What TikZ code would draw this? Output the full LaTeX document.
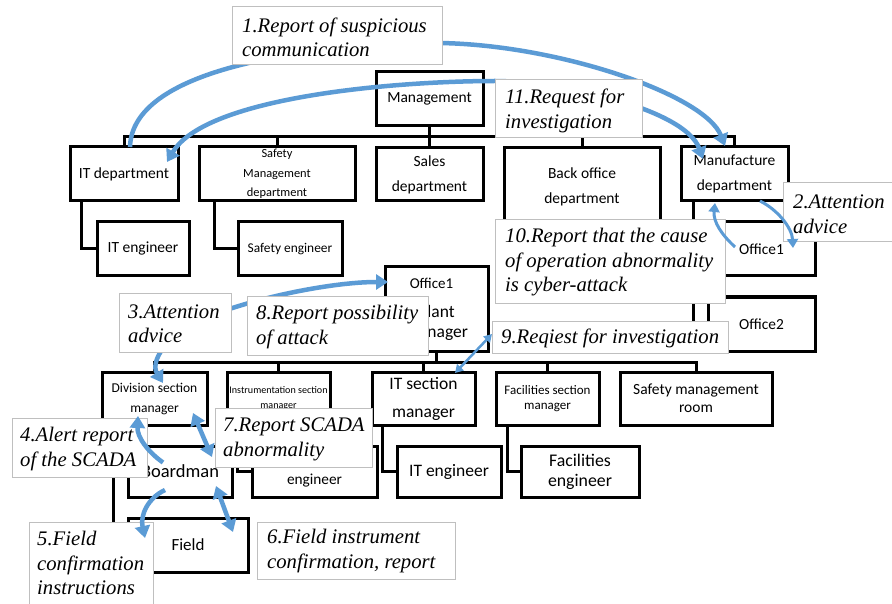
\documentclass[tikz,border=0pt]{standalone}
\usepackage{fontspec}
\setmainfont{Carlito}
\newfontfamily\tagfont{Liberation Serif}
\usetikzlibrary{arrows.meta,calc}
\definecolor{flowblue}{HTML}{5B9BD5}
\definecolor{tagedge}{HTML}{BFBFBF}
\newcommand\fsz[2]{\fontsize{#1}{#2}\selectfont}

\begin{document}
\begin{tikzpicture}[x=1pt,y=-1pt,
  unit/.style={draw=black, line width=3pt, inner sep=0pt, outer sep=0pt, align=center},
  link/.style={draw=black, line width=3pt},
  tag/.style={draw=tagedge, line width=1pt, fill=white, inner sep=0pt, outer sep=0pt},
  tagtext/.style={anchor=west, align=left, inner sep=0pt, font=\tagfont\itshape\fsz{20.7}{24.5}},
  flow/.style={draw=flowblue, line width=4.5pt, >={Triangle[length=12pt,width=15pt]}},
  flowthin/.style={draw=flowblue, line width=3pt, >={Triangle[length=9pt,width=11pt]}},
  flowfine/.style={draw=flowblue, line width=2.5pt, >={Triangle[length=8pt,width=9pt]}},
]
\useasboundingbox (0,0) rectangle (892,604);
\fill[white] (0,0) rectangle (892,604);

% ---- head office ----
\node[unit, minimum width=107pt, minimum height=54pt, font=\fsz{15.5}{18}] (mgmt) at (429.5,99) {Management};
\node[unit, minimum width=108pt, minimum height=54pt, font=\fsz{15.5}{18}] (itdep) at (124,174) {IT department};
\node[unit, minimum width=156pt, minimum height=54pt, font=\fsz{12.4}{19.5}] (safdep) at (277,174) {Safety\\Management\\department};
\node[unit, minimum width=107pt, minimum height=53pt, font=\fsz{15.5}{25}] (sales) at (429.5,174.5) {Sales\\department};
\node[unit, minimum width=156pt, minimum height=77pt, font=\fsz{15.5}{25}] (backoff) at (582,186.5) {Back office\\department};
\node[unit, minimum width=107pt, minimum height=54pt, font=\fsz{15.5}{25}] (manu) at (734.5,174) {Manufacture\\department};
\node[unit, minimum width=92pt, minimum height=54pt, font=\fsz{15.5}{18}] (iteng1) at (143,249) {IT engineer};
\node[unit, minimum width=104pt, minimum height=54pt, font=\fsz{13.4}{16}] (safeng) at (290,249) {Safety engineer};
\node[unit, minimum width=107pt, minimum height=54pt, font=\fsz{15.4}{18}] (offr1) at (761.5,249) {Office1};
\node[unit, minimum width=107pt, minimum height=54pt, font=\fsz{15.4}{18}] (offr2) at (761.5,324) {Office2};

% ---- plant ----
\node[unit, minimum width=103pt, minimum height=84pt, font=\fsz{17.5}{20}] (plant) at (436.5,309) {\hspace*{-10pt}{\fsz{15}{18}Office1}\\[9pt]Plant\\manager};
\node[unit, minimum width=105pt, minimum height=53pt, font=\fsz{13.5}{20}] (divsec) at (154.5,398.5) {Division section\\manager};
\node[unit, minimum width=103pt, minimum height=53pt, font=\fsz{10.1}{15}] (instsec) at (278.5,398.5) {Instrumentation section\\manager};
\node[unit, minimum width=103pt, minimum height=53pt, font=\fsz{17.5}{28}] (itsec) at (423.5,398.5) {IT section\\manager};
\node[unit, minimum width=103pt, minimum height=53pt, font=\fsz{13}{15.5}] (facsec) at (547.5,398.5) {Facilities section\\manager};
\node[unit, minimum width=152pt, minimum height=53pt, font=\fsz{15.5}{18}] (safroom) at (696,398.5) {Safety management\\room};
\node[unit, minimum width=104pt, minimum height=51pt, font=\fsz{18.5}{20}] (board) at (180,471.5) {Boardman};
\node[unit, minimum width=125pt, minimum height=51pt, font=\fsz{15.3}{19}] (insteng) at (314.5,471.5) {Instrumentation\\engineer};
\node[unit, minimum width=104pt, minimum height=51pt, font=\fsz{17.5}{20}] (iteng2) at (449,471.5) {IT engineer};
\node[unit, minimum width=118pt, minimum height=51pt, font=\fsz{17.8}{20}] (faceng) at (580,471.5) {Facilities\\engineer};
\node[unit, minimum width=120pt, minimum height=54pt, font=\fsz{17}{20}] (field) at (188,545) {Field};

% ---- organisation lines ----
\coordinate (bus1) at (430,137);
\draw[link] (itdep.north) |- (bus1) -| (manu.north);
\draw[link] (mgmt.south) -- (sales.north);
\draw[link] (safdep.north) -- (safdep.north |- bus1);
\draw[link] (backoff.north) -- (backoff.north |- bus1);
\draw[link] ($(itdep.south)+(-43,0)$) |- (iteng1.west);
\draw[link] ($(safdep.south)+(-63,0)$) |- (safeng.west);
\draw[link] ($(manu.south)+(-41.5,0)$) |- (offr2.west);
\draw[link] (offr1.west) -- ++(-15,0);

\coordinate (bus2) at (436.5,362);
\draw[link] (divsec.north) |- (bus2) -| (safroom.north);
\draw[link] (plant.south) -- (bus2);
\draw[link] (instsec.north) -- (instsec.north |- bus2);
\draw[link] (itsec.north) -- (itsec.north |- bus2);
\draw[link] (facsec.north) -- (facsec.north |- bus2);
\draw[link] ($(divsec.south)+(-41.5,0)$) |- (field.west);
\draw[link] (board.west) -- ++(-15,0);
\draw[link] ($(instsec.south)+(-41.5,0)$) |- (insteng.west);
\draw[link] ($(itsec.south)+(-41.5,0)$) |- (iteng2.west);
\draw[link] ($(facsec.south)+(-40.5,0)$) |- (faceng.west);

% ---- information flows (behind the captions) ----
\draw[flow, ->] ($(itdep.north)+(6,0)$) .. controls (132,70) and (300,45) .. (440,43)
  .. controls (560,45) and (705,95) .. ($(manu.north)+(-9.5,-1)$);
\draw[flow, <->] ($(itdep.north east)+(-11,15)$) .. controls (206,96) and (400,81) .. (495,81)
  .. controls (560,81) and (685,109) .. ($(manu.north west)+(22,12)$);
\draw[flow, <->] ($(divsec.north)+(8.5,11)$) .. controls (150,362) and (165,335) .. (205,318)
  .. controls (250,299) and (330,282) .. ($(plant.west)+(3,-27)$);
\draw[flow, <->] ($(divsec.south east)+(-14,-12)$) -- ($(board.north east)+(-20,11)$);
\draw[flow, <->] ($(board.south east)+(-16,-11)$) -- ($(field.north east)+(-15,14)$);
\draw[flowfine, <->] ($(itsec.north)+(31.5,1)$) -- ($(plant.south east)+(4,-17)$);

% ---- captions ----
\node[tag, minimum width=210pt, minimum height=58pt] (t1) at (337,36) {};
\node[tagtext] (t1x) at ($(t1.west)+(10,1.5)$) {1.Report of suspicious\\communication};
\node[tag, minimum width=147pt, minimum height=58pt] (t11) at (568.5,109) {};
\node[tagtext] (t11x) at ($(t11.west)+(10,2)$) {11.Request for\\investigation};
\node[tag, minimum width=112pt, minimum height=59pt] (t2) at (839,212.5) {};
\node[tagtext] (t2x) at ($(t2.west)+(10,2)$) {2.Attention\\advice};
\node[tag, minimum width=230pt, minimum height=83pt] (t10) at (610,261.5) {};
\node[tagtext] (t10x) at ($(t10.west)+(10,1)$) {10.Report that the cause\\of operation abnormality\\is cyber-attack};
\node[tag, minimum width=112pt, minimum height=58pt] (t3) at (175,323) {};
\node[tagtext] (t3x) at ($(t3.west)+(9,1)$) {3.Attention\\advice};
\node[tag, minimum width=181pt, minimum height=58pt] (t8) at (337.5,326) {};
\node[tagtext] (t8x) at ($(t8.west)+(9,1)$) {8.Report possibility\\of attack};
\node[tag, minimum width=236pt, minimum height=32pt] (t9) at (610,337) {};
\node[tagtext] (t9x) at ($(t9.west)+(9,1)$) {9.Reqiest for investigation};
\node[tag, minimum width=135pt, minimum height=59pt] (t4) at (79.5,447.5) {};
\node[tagtext] (t4x) at ($(t4.west)+(8,1.5)$) {4.Alert report\\of the SCADA};
\node[tag, minimum width=157pt, minimum height=59pt] (t7) at (293.5,437.5) {};
\node[tagtext] (t7x) at ($(t7.west)+(8,2)$) {7.Report SCADA\\abnormality};
\node[tag, minimum width=124pt, minimum height=86pt] (t5) at (91,565) {};
\node[tagtext] (t5x) at ($(t5.west)+(8,-2)$) {5.Field\\confirmation\\instructions};
\node[tag, minimum width=198pt, minimum height=57pt] (t6) at (356,550.5) {};
\node[tagtext] (t6x) at ($(t6.west)+(10,0.5)$) {6.Field instrument\\confirmation, report};

% ---- information flows (over the captions) ----
\draw[flowthin, ->] ($(manu.south)+(25.5,0)$) .. controls (778,210) and (792,228) .. ($(offr1.north east)+(-22,26)$);
\draw[flowthin, ->] ($(offr1.west)+(27,-2)$) .. controls (722,235) and (713,222) .. ($(manu.south)+(-19.5,2)$);
\draw[flow, ->] ($(board.west)+(35,-9)$) .. controls (148,452) and (137,437) .. ($(divsec.south west)+(36,-9)$);
\draw[flow, ->] ($(board.south west)+(37,-7)$) .. controls (148,498) and (140,515) .. ($(field.north west)+(17,20)$);
\end{tikzpicture}
\end{document}
